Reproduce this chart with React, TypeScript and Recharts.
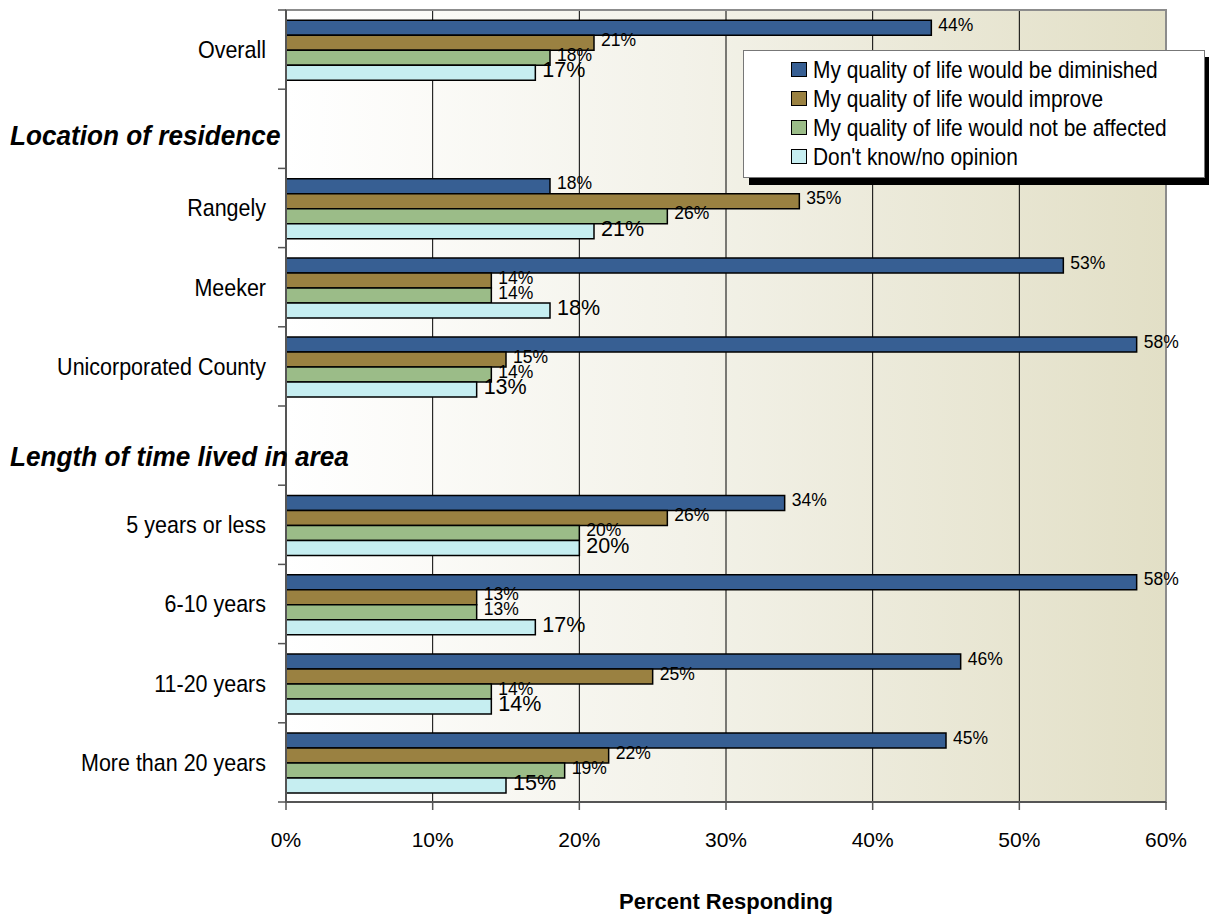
import React from 'react';
import {
  BarChart,
  Bar,
  XAxis,
  YAxis,
  CartesianGrid,
  Legend,
  LabelList,
  ReferenceArea,
} from 'recharts';

const categories = [
  'Overall',
  'Location of residence',
  'Rangely',
  'Meeker',
  'Unicorporated County',
  'Length of time lived in area',
  '5 years or less',
  '6-10 years',
  '11-20 years',
  'More than 20 years',
];

// group heading rows have no bars
const headings = ['Location of residence', 'Length of time lived in area'];

const diminished = [44, null, 18, 53, 58, null, 34, 58, 46, 45];
const improve = [21, null, 35, 14, 15, null, 26, 13, 25, 22];
const notAffected = [18, null, 26, 14, 14, null, 20, 13, 14, 19];
const noOpinion = [17, null, 21, 18, 13, null, 20, 17, 14, 15];

const xTicks = [0, 10, 20, 30, 40, 50, 60];

const series = [
  { key: 'diminished', name: 'My quality of life would be diminished', color: '#375F93', values: diminished, labelSize: 17.5 },
  { key: 'improve', name: 'My quality of life would improve', color: '#9A8141', values: improve, labelSize: 17.5 },
  { key: 'notAffected', name: 'My quality of life would not be affected', color: '#9BBC88', values: notAffected, labelSize: 17.5 },
  { key: 'noOpinion', name: "Don't know/no opinion", color: '#C6EEF1', values: noOpinion, labelSize: 21.5 },
];

const data = categories.map((name, i) => {
  const row: any = { name };
  series.forEach((s) => {
    row[s.key] = s.values[i];
  });
  return row;
});

const W = 1209;
const H = 916;
const MARGIN = { top: 10, right: 43, bottom: 0, left: 0 };
const Y_AXIS_W = 286;
const X_AXIS_H = 114;
const BAND = (H - MARGIN.top - MARGIN.bottom - X_AXIS_H) / categories.length;
const FONT = '"Liberation Sans", Arial, sans-serif';

// headings sit a little below their row centre
const headingShift = [6, 11];

function CategoryTick(props: any) {
  const { x, y, payload, index } = props;
  const label = payload.value as string;
  const h = headings.indexOf(label);
  const axisX = Y_AXIS_W;
  return (
    <g>
      <line x1={axisX - 8} x2={axisX} y1={y - BAND / 2} y2={y - BAND / 2} stroke="#555" strokeWidth={1.5} />
      {index === categories.length - 1 && (
        <line x1={axisX - 8} x2={axisX} y1={y + BAND / 2} y2={y + BAND / 2} stroke="#555" strokeWidth={1.5} />
      )}
      {h >= 0 ? (
        <text
          transform={`translate(10,${y + headingShift[h]}) scale(0.935,1)`}
          dy="0.35em"
          textAnchor="start"
          fontSize={28}
          fontWeight="bold"
          fontStyle="italic"
          fill="#000"
          fontFamily={FONT}
        >
          {label}
        </text>
      ) : (
        <text
          transform={`translate(${x - 12},${y}) scale(0.895,1)`}
          dy="0.35em"
          textAnchor="end"
          fontSize={24}
          fill="#000"
          fontFamily={FONT}
        >
          {label}
        </text>
      )}
    </g>
  );
}

function valueLabel(size: number) {
  return (props: any) => {
    const { x, y, width, height, value } = props;
    if (value == null) return null;
    return (
      <text x={x + width + 7} y={y + height / 2 - 3} dy="0.35em" fontSize={size} fill="#000" fontFamily={FONT}>
        {value}%
      </text>
    );
  };
}

function LegendBox() {
  return (
    <div
      style={{
        width: 462,
        height: 128,
        background: '#fff',
        border: '1px solid #777',
        boxShadow: '6px 7px 0 #000',
        boxSizing: 'border-box',
        paddingTop: 4,
        paddingLeft: 47,
        fontFamily: FONT,
        fontSize: 24,
        color: '#000',
      }}
    >
      {series.map((s) => (
        <div key={s.key} style={{ display: 'flex', alignItems: 'center', height: 29 }}>
          <span
            style={{
              display: 'inline-block',
              flex: 'none',
              width: 14,
              height: 13,
              background: s.color,
              border: '1.5px solid #000',
              marginRight: 6,
            }}
          />
          <span
            style={{
              display: 'inline-block',
              whiteSpace: 'nowrap',
              transform: 'scaleX(0.87)',
              transformOrigin: 'left center',
            }}
          >
            {s.name}
          </span>
        </div>
      ))}
    </div>
  );
}

export default function App() {
  return (
    <div style={{ position: 'absolute', left: 0, top: 0, width: W, height: H, background: '#fff', fontFamily: FONT }}>
      <BarChart
        width={W}
        height={H}
        data={data}
        layout="vertical"
        margin={MARGIN}
        barCategoryGap="13%"
        barGap={0}
      >
        <defs>
          <linearGradient id="plotFill" x1="0" y1="0" x2="1" y2="0">
            <stop offset="0%" stopColor="#FFFFFF" />
            <stop offset="45%" stopColor="#F3F2E9" />
            <stop offset="100%" stopColor="#E2DFC6" />
          </linearGradient>
        </defs>
        <CartesianGrid horizontal={false} stroke="#000" strokeWidth={1} fill="url(#plotFill)" fillOpacity={1} />
        <ReferenceArea x1={0} x2={60} fill="none" stroke="#8c8c8c" strokeWidth={2} />
        <XAxis
          type="number"
          domain={[0, 60]}
          ticks={xTicks}
          tickFormatter={(v) => `${v}%`}
          height={X_AXIS_H}
          tickSize={8}
          tickMargin={22}
          tick={{ fontSize: 21, fill: '#000', fontFamily: FONT }}
          axisLine={{ stroke: '#555', strokeWidth: 2 }}
          tickLine={{ stroke: '#555', strokeWidth: 1.5 }}
          label={{
            value: 'Percent Responding',
            position: 'insideBottom',
            offset: 7,
            fontSize: 22,
            fontWeight: 'bold',
            fill: '#000',
            fontFamily: FONT,
          }}
        />
        <YAxis
          type="category"
          dataKey="name"
          width={Y_AXIS_W}
          tickLine={false}
          interval={0}
          axisLine={{ stroke: '#555', strokeWidth: 2 }}
          tick={<CategoryTick />}
        />
        <Legend
          layout="vertical"
          align="center"
          verticalAlign="middle"
          wrapperStyle={{ left: 743, top: 50, width: 462, height: 128 }}
          content={() => <LegendBox />}
        />
        {series.map((s) => (
          <Bar
            key={s.key}
            dataKey={s.key}
            name={s.name}
            fill={s.color}
            stroke="#000"
            strokeWidth={1.5}
            isAnimationActive={false}
          >
            <LabelList dataKey={s.key} content={valueLabel(s.labelSize)} />
          </Bar>
        ))}
      </BarChart>
    </div>
  );
}
